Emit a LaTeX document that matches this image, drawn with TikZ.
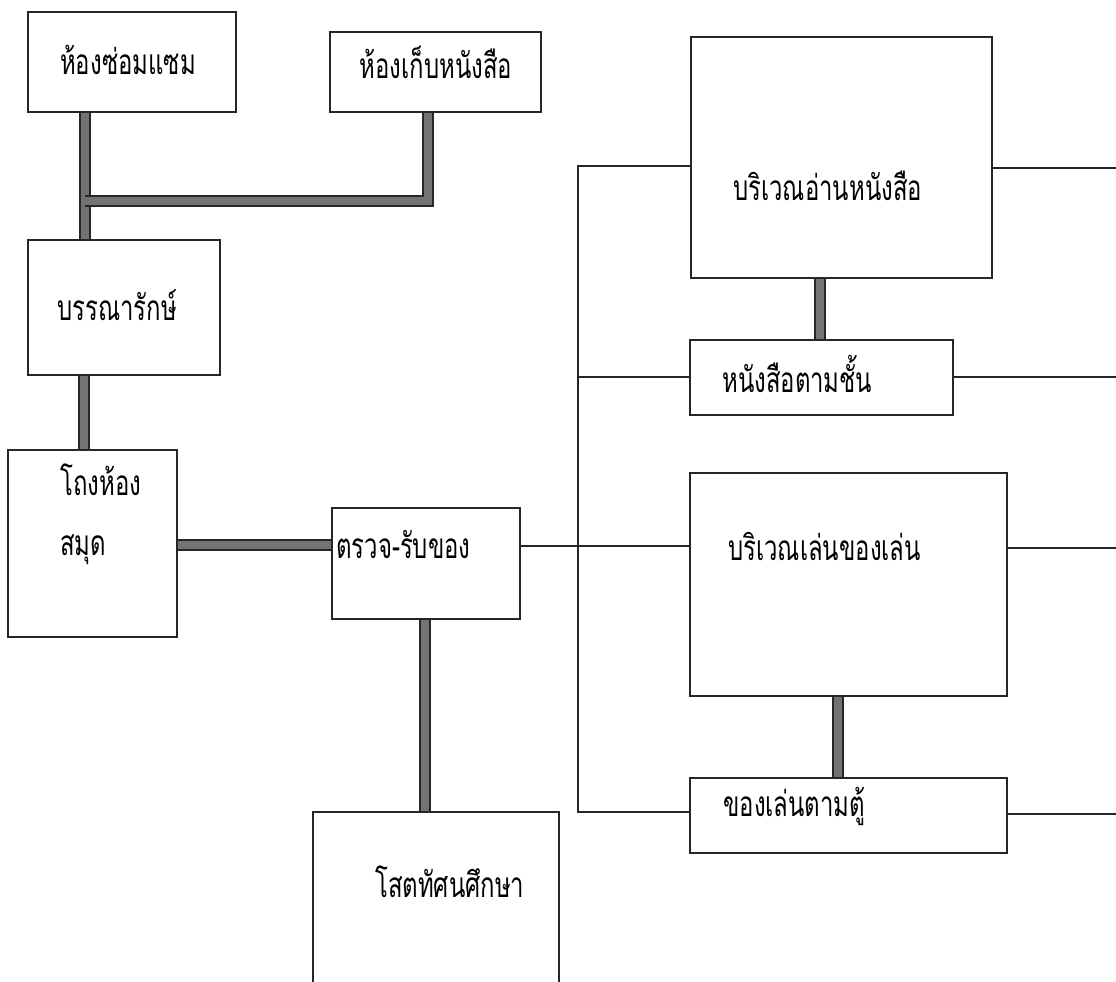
\documentclass[tikz,border=0pt]{standalone}
\usepackage{fontspec}
\newfontfamily\thaifont[Script=Thai, FakeStretch=0.68]{Loma}
\usetikzlibrary{calc,fit}
\tikzset{
  room/.style ={draw=black!85, line width=2pt, inner sep=0pt},
  rtext/.style={anchor=west, font=\thaifont\fontsize{25}{29}\selectfont,
                inner sep=0pt, align=left},
  tlink/.style={draw=black!85, line width=1.2pt, double=black!55,
                double distance=5.8pt},
  wire/.style ={draw=black!85, line width=1.8pt},
}

\begin{document}
\begin{tikzpicture}[x=0.025cm, y=-0.025cm]
  \useasboundingbox (0,0) rectangle (1116,981);

  \node[room, fit={(28,12) (236,112)}]   (repair)    {};
  \node[room, fit={(330,32) (541,112)}]  (store)     {};
  \node[room, fit={(28,240) (220,375)}]  (librarian) {};
  \node[room, fit={(8,450) (177,637)}]   (lobby)     {};
  \node[room, fit={(332,508) (520,619)}] (check)     {};
  \node[room, fit={(313,812) (559,1000)}] (av)       {};
  \node[room, fit={(691,37) (992,278)}]  (reading)   {};
  \node[room, fit={(690,340) (953,415)}] (shelf)     {};
  \node[room, fit={(690,473) (1007,696)}] (play)     {};
  \node[room, fit={(690,778) (1007,853)}] (cabinet)  {};

  \node[rtext, anchor=center] (t-repair)    at (128,60)  {ห้องซ่อมแซม};
  \node[rtext, anchor=center] (t-store)     at (436,62)  {ห้องเก็บหนังสือ};
  \node[rtext, anchor=center] (t-librarian) at (117,305) {บรรณารักษ์};
  \node[rtext] (t-lobby)   at (60,514)  {โถงห้อง\\[14pt]สมุด};
  \node[rtext] (t-check)   at (336,545) {ตรวจ-รับของ};
  \node[rtext] (t-av) at (375,882) {โสตทัศนศึกษา};
  \node[rtext] (t-reading) at (733,186) {บริเวณอ่านหนังสือ};
  \node[rtext] (t-shelf)   at (722,374) {หนังสือตามชั้น};
  \node[rtext] (t-play)    at (728,546) {บริเวณเล่นของเล่น};
  \node[rtext] (t-cabinet) at (723,806) {ของเล่นตามตู้};

  \coordinate (join)   at (85,201);
  \coordinate (bustop) at (578,166);
  \coordinate (busbot) at (578,812);
  \coordinate (e1) at (1116,168);
  \coordinate (e2) at (1116,377);
  \coordinate (e3) at (1116,548);
  \coordinate (e4) at (1116,814);

  \draw[tlink] (repair.south -| join) -- (librarian.north -| join);
  \draw[tlink] (join) -- (join -| 428,0) -- (store.south -| 428,0);
  \draw[tlink] (librarian.south -| 84,0) -- (lobby.north -| 84,0);
  \draw[tlink] (lobby.east |- 0,545) -- (check.west |- 0,545);
  \draw[tlink] (check.south -| 425,0) -- (av.north -| 425,0);
  \draw[tlink] (reading.south -| 820,0) -- (shelf.north -| 820,0);
  \draw[tlink] (play.south -| 838,0) -- (cabinet.north -| 838,0);

  \draw[wire] (reading.west |- bustop) -- (bustop) -- (busbot)
    -- (cabinet.west |- busbot);
  \draw[wire] (check.east |- 0,546) -- (play.west |- 0,546);
  \draw[wire] (bustop |- 0,377) -- (shelf.west |- 0,377);
  \draw[wire] (reading.east |- e1) -- (e1);
  \draw[wire] (shelf.east |- e2) -- (e2);
  \draw[wire] (play.east |- e3) -- (e3);
  \draw[wire] (cabinet.east |- e4) -- (e4);

\end{tikzpicture}
\end{document}
